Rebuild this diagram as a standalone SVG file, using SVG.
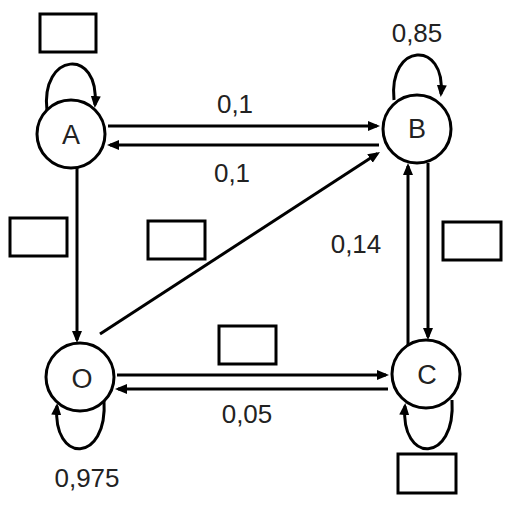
<svg xmlns="http://www.w3.org/2000/svg" width="511" height="509" viewBox="0 0 511 509">
<style>
.n{fill:#fff;stroke:#000;stroke-width:3}
.b{fill:#fff;stroke:#000;stroke-width:3}
.e{fill:none;stroke:#000;stroke-width:3;marker-end:url(#ah)}
text{font-family:"Liberation Sans",Arial,sans-serif;fill:#222;text-anchor:middle}
.lbl{font-size:26px}
.nl{font-size:27px}
</style>
<defs>
<marker id="ah" markerUnits="userSpaceOnUse" markerWidth="13" markerHeight="11" refX="9" refY="5" orient="auto" viewBox="0 0 13 11">
<path d="M0,0 L12,5 L0,10 z" fill="#000"/>
</marker>
</defs>
<rect width="511" height="509" fill="#fff"/>
<g id="connectors">
<path class="e" d="M108 126 L377 126"/>
<path class="e" d="M379 145 L110 145"/>
<path class="e" d="M77 168 L77 340"/>
<path class="e" d="M100 334 L377.5 153.6"/>
<path class="e" d="M117 375 L386 375"/>
<path class="e" d="M388 389 L118 389"/>
<path class="e" d="M428 163 L428 337"/>
<path class="e" d="M408 345 L408 166"/>
<path class="e" d="M47 111 C40 52 100 47 95 105"/>
<path class="e" d="M394 100 C388 42 446 40 441 94"/>
<path class="e" d="M104 400 C108 464 52 464 57 406"/>
<path class="e" d="M452 400 C456 464 400 464 405 406"/>
</g>
<g id="A"><circle class="n" cx="71" cy="134" r="34"/><text class="nl" x="71" y="144">A</text></g>
<g id="B"><circle class="n" cx="417" cy="129" r="34"/><text class="nl" x="417" y="138">B</text></g>
<g id="O"><circle class="n" cx="80" cy="377" r="34"/><text class="nl" x="82" y="388">O</text></g>
<g id="C"><circle class="n" cx="426" cy="374" r="34"/><text class="nl" x="427" y="384">C</text></g>
<g id="box1"><rect class="b" x="40" y="14" width="56" height="38"/></g>
<g id="box2"><rect class="b" x="10" y="218" width="57" height="38"/></g>
<g id="box3"><rect class="b" x="148" y="221" width="57" height="38"/></g>
<g id="box4"><rect class="b" x="219" y="326" width="57" height="38"/></g>
<g id="box5"><rect class="b" x="443" y="222" width="58" height="38"/></g>
<g id="box6"><rect class="b" x="398" y="454" width="58" height="39"/></g>
<g id="labels">
<text class="lbl" x="417" y="42">0,85</text>
<text class="lbl" x="235" y="113">0,1</text>
<text class="lbl" x="232" y="182">0,1</text>
<text class="lbl" x="356" y="253">0,14</text>
<text class="lbl" x="247" y="423">0,05</text>
<text class="lbl" x="87" y="487">0,975</text>
</g>
</svg>
